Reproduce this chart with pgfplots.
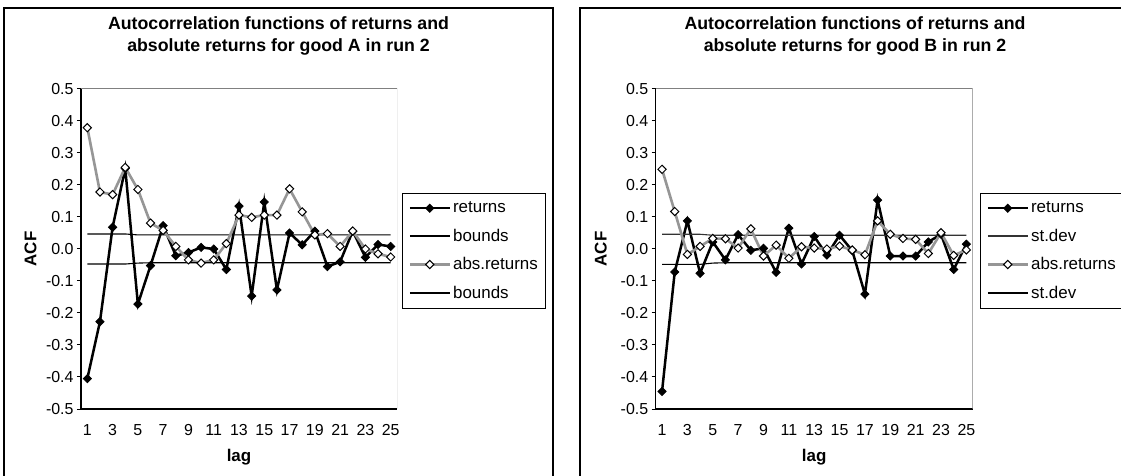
\documentclass[border=0pt]{standalone}
\usepackage{fontspec}
\setmainfont{Liberation Sans}
\usepackage{pgfplots}
\pgfplotsset{compat=1.18}
\definecolor{absgray}{RGB}{150,150,150}
\definecolor{boxgray}{RGB}{128,128,128}

\pgfplotsset{
 acf/.style={
  scale only axis, height=320bp,
  xmin=0.5, xmax=25.5, ymin=-0.5, ymax=0.5,
  axis x line*=bottom, axis y line*=left,
  axis line style={black, line width=1.1bp},
  tick align=outside,
  major tick length=4bp, minor tick length=4bp,
  every tick/.append style={black, line width=1bp},
  xtick={1,3,5,7,9,11,13,15,17,19,21,23,25},
  xticklabels={1,3,5,7,9,11,13,15,17,19,21,23,25},
  xtick style={draw=none},
  minor xtick={0.5,1.5,...,25.5},
  minor x tick style={black, line width=1bp},
  xticklabel style={yshift=-8bp},
  ytick={-0.5,-0.4,-0.3,-0.2,-0.1,0,0.1,0.2,0.3,0.4,0.5},
  yticklabels={-0.5,-0.4,-0.3,-0.2,-0.1,0.0,0.1,0.2,0.3,0.4,0.5},
  minor y tick num=0,
  tick label style={font=\fontsize{16}{16}\selectfont, text=black},
  xlabel={lag}, ylabel={ACF},
  every axis x label/.style={at={(axis description cs:0.5,0)}, yshift=-48bp, anchor=center,
     font=\bfseries\fontsize{17}{17}\selectfont},
  legend style={anchor=north west, draw=black, line width=1bp, fill=white,
    font=\fontsize{17}{17}\selectfont, inner xsep=6bp, inner ysep=6.5bp,
    row sep=10.7bp, nodes={inner sep=2bp}},
  legend cell align=left,
  legend image code/.code={\draw[mark repeat=2,mark phase=2,#1] plot coordinates {(0bp,0bp) (20bp,0bp) (40bp,0bp)};},
 },
 retstyle/.style={black, line width=2.5bp, mark=square*, mark size=2.9bp,
   mark options={rotate=45, solid, fill=black, draw=black, line width=0.8bp}},
 absstyle/.style={absgray, line width=2.6bp, mark=square*, mark size=2.9bp,
   mark options={rotate=45, solid, fill=white, draw=black, line width=1bp}},
 bndstyle/.style={black, line width=1.1bp},
}

\pgfplotstableread{
lag ret abs up lo
1 -0.405 0.379 0.047 -0.047
2 -0.227 0.178 0.047 -0.047
3 0.068 0.170 0.047 -0.047
4 0.252 0.255 0.047 -0.047
5 -0.172 0.186 0.044 -0.044
6 -0.052 0.081 0.044 -0.043
7 0.073 0.058 0.044 -0.043
8 -0.021 0.008 0.044 -0.043
9 -0.011 -0.034 0.044 -0.043
10 0.005 -0.044 0.044 -0.043
11 0.000 -0.034 0.044 -0.043
12 -0.064 0.017 0.044 -0.043
13 0.134 0.106 0.044 -0.043
14 -0.147 0.099 0.044 -0.043
15 0.147 0.106 0.044 -0.043
16 -0.128 0.106 0.044 -0.043
17 0.050 0.188 0.044 -0.043
18 0.013 0.116 0.044 -0.043
19 0.056 0.044 0.044 -0.043
20 -0.055 0.048 0.044 -0.043
21 -0.040 0.008 0.044 -0.043
22 0.056 0.056 0.044 -0.043
23 -0.026 0.000 0.044 -0.043
24 0.014 -0.015 0.044 -0.043
25 0.008 -0.025 0.044 -0.043
}\tabA

\pgfplotstableread{
lag ret abs up lo
1 -0.445 0.249 0.046 -0.048
2 -0.072 0.117 0.046 -0.048
3 0.088 -0.017 0.046 -0.048
4 -0.076 0.008 0.046 -0.048
5 0.022 0.033 0.043 -0.044
6 -0.034 0.032 0.043 -0.043
7 0.045 0.003 0.043 -0.043
8 -0.004 0.063 0.043 -0.043
9 0.002 -0.022 0.043 -0.043
10 -0.073 0.012 0.043 -0.043
11 0.065 -0.029 0.043 -0.043
12 -0.047 0.007 0.043 -0.043
13 0.039 0.003 0.043 -0.043
14 -0.019 0.000 0.043 -0.043
15 0.043 0.009 0.043 -0.043
16 -0.005 -0.003 0.043 -0.043
17 -0.141 -0.018 0.043 -0.043
18 0.153 0.088 0.043 -0.043
19 -0.022 0.046 0.043 -0.043
20 -0.022 0.033 0.043 -0.043
21 -0.022 0.030 0.043 -0.043
22 0.022 -0.014 0.043 -0.043
23 0.046 0.051 0.043 -0.043
24 -0.064 -0.020 0.043 -0.043
25 0.015 -0.003 0.043 -0.043
}\tabB

\begin{document}
\begin{tikzpicture}
\useasboundingbox (0bp,0bp) rectangle (1121bp,476bp);
\fill[white] (0bp,0bp) rectangle (1121bp,476bp);
% chart frames
\draw[black, line width=1.3bp] (4bp,-5bp) -- (4bp,468bp) -- (553bp,468bp) -- (553bp,-5bp);
\draw[black, line width=1.3bp] (580bp,-5bp) -- (580bp,468bp) -- (1135bp,468bp);
% titles
\node[font=\bfseries\fontsize{17.8}{20}\selectfont, anchor=base] at (278.5bp,446bp) {Autocorrelation functions of returns and};
\node[font=\bfseries\fontsize{17.8}{20}\selectfont, anchor=base] at (278.5bp,424bp) {absolute returns for good A in run 2};
\node[font=\bfseries\fontsize{17.8}{20}\selectfont, anchor=base] at (855bp,446bp) {Autocorrelation functions of returns and};
\node[font=\bfseries\fontsize{17.8}{20}\selectfont, anchor=base] at (855bp,424bp) {absolute returns for good B in run 2};

\begin{axis}[acf, width=316bp, at={(81bp,67bp)}, anchor=south west,
  every axis y label/.style={at={(axis description cs:-0.16,0.5)}, rotate=90, anchor=center,
     font=\bfseries\fontsize{17}{17}\selectfont},
  legend style={at={(1.0158,0.675)}}]
\draw[boxgray, line width=1bp] (rel axis cs:0,1) -- (rel axis cs:1,1) -- (rel axis cs:1,0);
\addplot[retstyle] table[x=lag, y=ret] {\tabA}; \addlegendentry{returns}
\addplot[bndstyle] table[x=lag, y=up] {\tabA}; \addlegendentry{bounds}
\addplot[absstyle] table[x=lag, y=abs] {\tabA}; \addlegendentry{abs.returns}
\addplot[bndstyle] table[x=lag, y=lo] {\tabA}; \addlegendentry{bounds}
\end{axis}

\begin{axis}[acf, width=317bp, at={(655.7bp,67bp)}, anchor=south west,
  every axis y label/.style={at={(axis description cs:-0.173,0.5)}, rotate=90, anchor=center,
     font=\bfseries\fontsize{17}{17}\selectfont},
  legend style={at={(1.023,0.675)}}]
\draw[boxgray, line width=1bp] (rel axis cs:0,1) -- (rel axis cs:1,1) -- (rel axis cs:1,0);
\addplot[retstyle] table[x=lag, y=ret] {\tabB}; \addlegendentry{returns}
\addplot[bndstyle, draw=black!80] table[x=lag, y=up] {\tabB}; \addlegendentry{st.dev}
\addplot[absstyle] table[x=lag, y=abs] {\tabB}; \addlegendentry{abs.returns}
\addplot[bndstyle] table[x=lag, y=lo] {\tabB}; \addlegendentry{st.dev}
\end{axis}
\end{tikzpicture}
\end{document}
